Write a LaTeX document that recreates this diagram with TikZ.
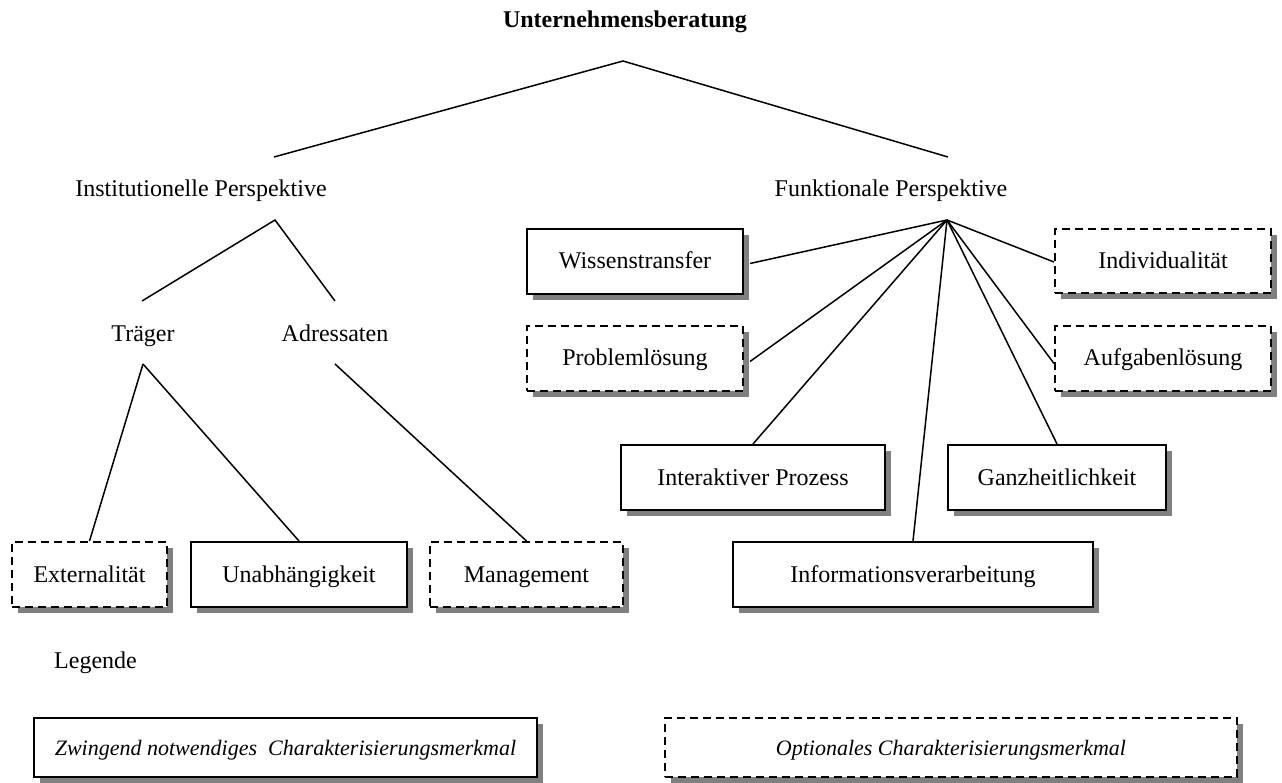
\documentclass[tikz,border=0pt]{standalone}
\usepackage{fontspec}
\setmainfont{Liberation Serif}
\usetikzlibrary{shadows,calc}
\begin{document}
\begin{tikzpicture}[x=1pt,y=-1pt,
  lbl/.style={inner sep=0pt, anchor=base, font=\fontsize{24}{28}\selectfont},
  merkmal/.style={draw, line width=2pt, fill=white, inner sep=0pt,
    text height=17pt, text depth=2pt,
    font=\fontsize{24}{28}\selectfont,
    drop shadow={shadow xshift=6pt, shadow yshift=-6pt, opacity=1, fill=black!50}},
  optional/.style={merkmal, dash pattern=on 8pt off 5pt},
  legendtext/.style={font=\fontsize{22}{26}\selectfont\itshape},
  conn/.style={line width=1.5pt}
]
\useasboundingbox (0,0) rectangle (1282,783);

% headings
\node[lbl, font=\fontsize{24}{28}\selectfont\bfseries] (title) at (625,28) {Unternehmensberatung};
\node[lbl] (inst) at (201,197) {Institutionelle Perspektive};
\node[lbl] (funk) at (891,197) {Funktionale Perspektive};
\node[lbl] (traeger) at (143,342) {Träger};
\node[lbl] (adress) at (335,342) {Adressaten};
\node[lbl, anchor=base west] (legende) at (54,668) {Legende};

% branching points
\coordinate (topapex) at (623,61);
\coordinate (instup) at (274,157);
\coordinate (funkup) at (948,157);
\coordinate (instdown) at (275,220);
\coordinate (traegerup) at (142,301);
\coordinate (adressup) at (335,301);
\coordinate (traegerdown) at (143,364);
\coordinate (adressdown) at (335,364);
\coordinate (funkdown) at (947,220);

% characteristics of the functional perspective
\node[merkmal, minimum width=216pt, minimum height=65pt] (wiss) at (635,261.5) {Wissenstransfer};
\node[optional, minimum width=216pt, minimum height=64pt] (indiv) at (1163,261) {Individualität};
\node[optional, minimum width=216pt, minimum height=65pt] (probl) at (635,358.5) {Problemlösung};
\node[optional, minimum width=216pt, minimum height=65pt] (aufg) at (1163,358.5) {Aufgabenlösung};
\node[merkmal, minimum width=264pt, minimum height=65pt] (inter) at (753,477.5) {Interaktiver Prozess};
\node[merkmal, minimum width=218pt, minimum height=65pt] (ganz) at (1057,477.5) {Ganzheitlichkeit};
\node[merkmal, minimum width=360pt, minimum height=65pt] (info) at (913,574.5) {Informationsverarbeitung};

% characteristics of the institutional perspective
\node[optional, minimum width=155pt, minimum height=65pt] (ext) at (89.5,574.5) {Externalität};
\node[merkmal, minimum width=216pt, minimum height=65pt] (unab) at (299,574.5) {Unabhängigkeit};
\node[optional, minimum width=193pt, minimum height=65pt] (mgmt) at (526.5,574.5) {Management};

% legend
\node[merkmal, legendtext, minimum width=503pt, minimum height=59pt] (leg1) at (285.5,747.5) {Zwingend notwendiges\ \ Charakterisierungsmerkmal};
\node[optional, legendtext, minimum width=572pt, minimum height=59pt] (leg2) at (951,747.5) {Optionales Charakterisierungsmerkmal};

% tree connectors
\draw[conn] (instup) -- (topapex) -- (funkup);
\draw[conn] (traegerup) -- (instdown) -- (adressup);
\draw[conn] (traegerdown) -- (ext.north);
\draw[conn] (traegerdown) -- (unab.north);
\draw[conn] (adressdown) -- (mgmt.north);

\draw[conn] (funkdown) -- ([xshift=6pt,yshift=-2pt]wiss.east);
\draw[conn] (funkdown) -- ([yshift=-1pt]indiv.west);
\draw[conn] (funkdown) -- ([xshift=6pt,yshift=-3pt]probl.east);
\draw[conn] (funkdown) -- ([yshift=-5pt]aufg.west);
\draw[conn] (funkdown) -- (inter.north);
\draw[conn] (funkdown) -- (ganz.north);
\draw[conn] (funkdown) -- (info.north);
\end{tikzpicture}
\end{document}
